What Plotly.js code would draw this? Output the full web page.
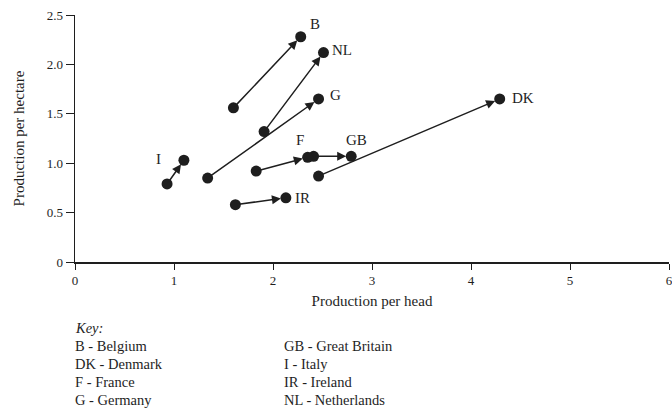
<!DOCTYPE html>
<html>
<head>
<meta charset="utf-8">
<script src="https://cdn.plot.ly/plotly-3.0.1.min.js"></script>
<style>html,body{margin:0;padding:0;background:#fff;}#chart{width:672px;height:411px;}</style>
</head>
<body>
<div id="chart"></div>
<script>
// Country codes and start/end values (production per head, production per hectare)
const countries = ['B', 'NL', 'G', 'I', 'F', 'GB', 'DK', 'IR'];
const startHead = [1.60, 1.91, 1.34, 0.93, 1.83, 2.41, 2.46, 1.62];
const startHectare = [1.56, 1.32, 0.85, 0.79, 0.92, 1.07, 0.87, 0.58];
const endHead = [2.28, 2.51, 2.46, 1.10, 2.35, 2.79, 4.29, 2.13];
const endHectare = [2.28, 2.12, 1.65, 1.03, 1.06, 1.07, 1.65, 0.65];

const xTickVals = [0, 1, 2, 3, 4, 5, 6];
const xTickText = ['0', '1', '2', '3', '4', '5', '6'];
const yTickVals = [0, 0.5, 1.0, 1.5, 2.0, 2.5];
const yTickText = ['0', '0.5', '1.0', '1.5', '2.0', '2.5'];

const keyLeft = ['B - Belgium', 'DK - Denmark', 'F - France', 'G - Germany'];
const keyRight = ['GB - Great Britain', 'I - Italy', 'IR - Ireland', 'NL - Netherlands'];

// label offsets (style) per country, in pixels relative to end point
const labelShift = {
  B: [14, 13], NL: [19, 3], G: [17, 4], I: [-25, 1],
  F: [-8, 17], GB: [5, 16], DK: [23, 1], IR: [17, 0]
};

const ink = '#1e1e1e';
const serif = 'Liberation Serif, DejaVu Serif, serif';

const traces = [{
  type: 'scatter', mode: 'markers',
  x: startHead.concat(endHead),
  y: startHectare.concat(endHectare),
  marker: {size: 11, color: ink},
  hoverinfo: 'skip', showlegend: false, cliponaxis: false
}];

const annotations = [];
countries.forEach((c, i) => {
  annotations.push({
    x: endHead[i], y: endHectare[i], xref: 'x', yref: 'y',
    ax: startHead[i], ay: startHectare[i], axref: 'x', ayref: 'y',
    showarrow: true, arrowhead: 2, arrowsize: 1.2, arrowwidth: 1.5,
    arrowcolor: ink, standoff: 5, startstandoff: 0, text: ''
  });
  const s = labelShift[c];
  annotations.push({
    x: endHead[i], y: endHectare[i], xref: 'x', yref: 'y',
    text: c, showarrow: false, xshift: s[0], yshift: s[1],
    font: {family: serif, size: 15, color: ink}
  });
});

// Key below chart
const keyFont = {family: serif, size: 14.5, color: ink};
annotations.push({
  xref: 'paper', yref: 'paper', x: -0.004, y: -0.267, xanchor: 'left', yanchor: 'middle',
  text: '<i>Key:</i>', showarrow: false, font: keyFont
});
keyLeft.forEach((t, i) => annotations.push({
  xref: 'paper', yref: 'paper', x: -0.004, y: -0.340 - i * 0.0729, xanchor: 'left', yanchor: 'middle',
  text: t, showarrow: false, font: keyFont
}));
keyRight.forEach((t, i) => annotations.push({
  xref: 'paper', yref: 'paper', x: 0.348, y: -0.340 - i * 0.0729, xanchor: 'left', yanchor: 'middle',
  text: t, showarrow: false, font: keyFont
}));

const layout = {
  width: 672, height: 411,
  margin: {l: 75, r: 3, t: 15, b: 149},
  paper_bgcolor: '#fff', plot_bgcolor: '#fff',
  font: {family: serif, color: ink},
  showlegend: false,
  xaxis: {
    range: [0, 6], tickvals: xTickVals, ticktext: xTickText, ticklabeloverflow: 'allow',
    showgrid: false, zeroline: false, showline: true, linecolor: ink, linewidth: 1.5,
    ticks: 'outside', ticklen: 6, tickcolor: ink, tickfont: {family: serif, size: 13, color: ink},
    title: {text: 'Production per head', font: {family: serif, size: 15, color: ink}, standoff: 8}
  },
  yaxis: {
    range: [0, 2.5], tickvals: yTickVals, ticktext: yTickText,
    showgrid: false, zeroline: false, showline: true, linecolor: ink, linewidth: 1.5,
    ticks: 'outside', ticklen: 8, tickcolor: ink, tickfont: {family: serif, size: 13, color: ink},
    title: {text: 'Production per hectare', font: {family: serif, size: 15, color: ink}, standoff: 18}
  },
  annotations: annotations
};

Plotly.newPlot('chart', traces, layout, {displayModeBar: false, staticPlot: true});
</script>
</body>
</html>
